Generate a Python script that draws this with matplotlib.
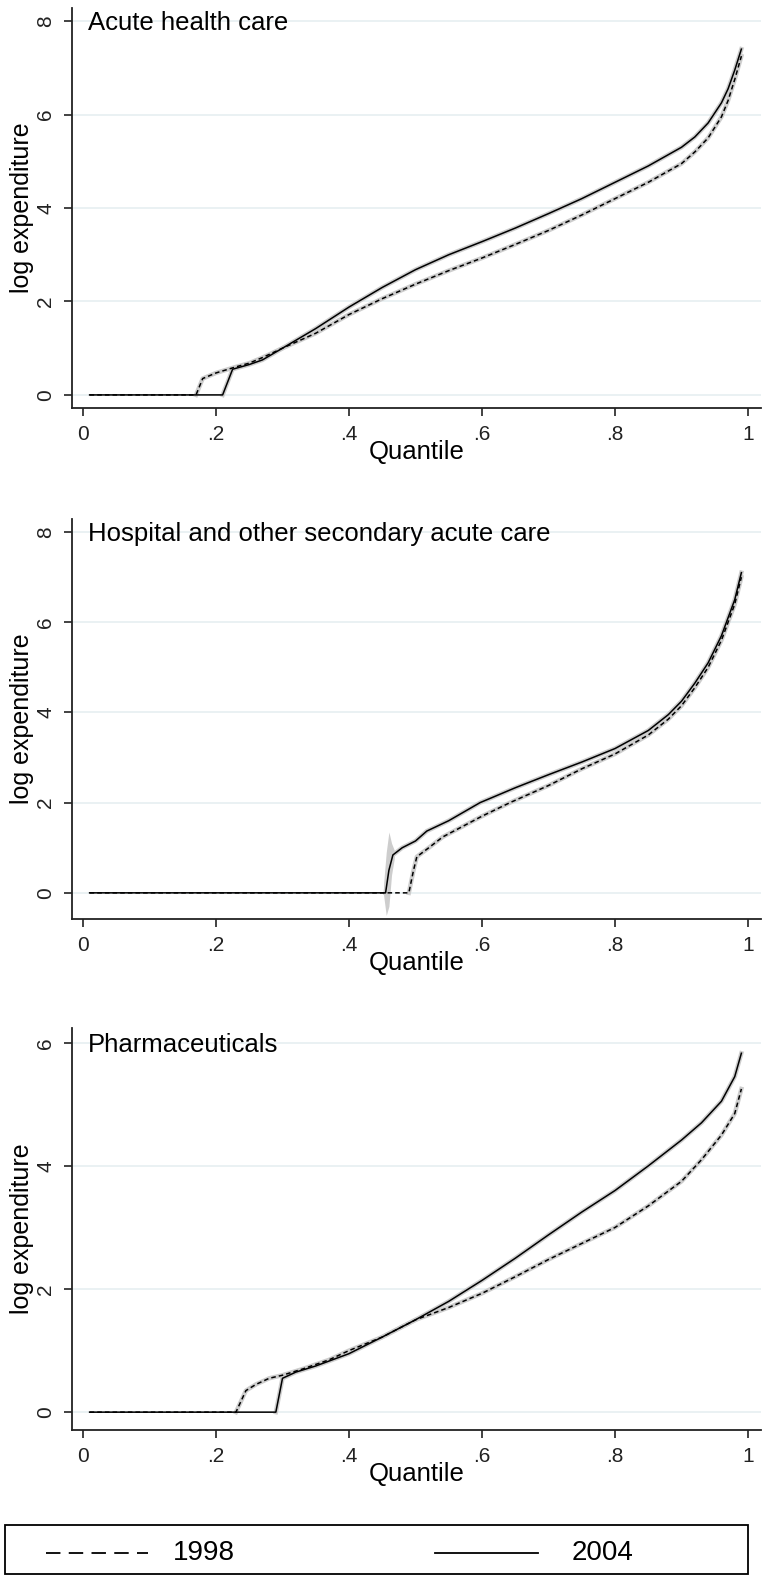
import matplotlib
matplotlib.use("Agg")
import matplotlib.pyplot as plt
from matplotlib.lines import Line2D
from matplotlib.patches import Rectangle

plt.rcParams['font.family'] = ['Liberation Sans', 'DejaVu Sans']

# ---- data (quantile, log expenditure) ----
titles = ["Acute health care", "Hospital and other secondary acute care", "Pharmaceuticals"]
legend_labels = ["1998", "2004"]

acute_q98 = [0.01, 0.17, 0.18, 0.20, 0.23, 0.25, 0.27, 0.30, 0.35, 0.40, 0.45, 0.50, 0.55, 0.60,
             0.65, 0.70, 0.75, 0.80, 0.85, 0.90, 0.92, 0.94, 0.96, 0.97, 0.98, 0.99]
acute_y98 = [0.0, 0.0, 0.35, 0.47, 0.6, 0.68, 0.8, 1.0, 1.32, 1.72, 2.06, 2.37, 2.66, 2.93,
             3.22, 3.52, 3.85, 4.2, 4.55, 4.95, 5.2, 5.5, 5.95, 6.3, 6.75, 7.25]
acute_q04 = [0.01, 0.21, 0.225, 0.25, 0.27, 0.30, 0.35, 0.40, 0.45, 0.50, 0.55, 0.60,
             0.65, 0.70, 0.75, 0.80, 0.85, 0.90, 0.92, 0.94, 0.96, 0.97, 0.98, 0.99]
acute_y04 = [0.0, 0.0, 0.55, 0.65, 0.75, 1.0, 1.42, 1.88, 2.3, 2.68, 3.0, 3.28,
             3.57, 3.88, 4.2, 4.55, 4.9, 5.3, 5.52, 5.82, 6.25, 6.55, 6.95, 7.4]

hosp_q98 = [0.01, 0.49, 0.497, 0.502, 0.52, 0.541, 0.60, 0.642, 0.70, 0.75, 0.80, 0.85,
            0.88, 0.90, 0.92, 0.94, 0.96, 0.98, 0.99]
hosp_y98 = [0.0, 0.0, 0.5, 0.8, 1.0, 1.24, 1.7, 2.0, 2.38, 2.75, 3.08, 3.5,
            3.85, 4.15, 4.55, 5.0, 5.6, 6.4, 7.0]
hosp_q04 = [0.01, 0.455, 0.46, 0.466, 0.48, 0.50, 0.517, 0.55, 0.597, 0.65, 0.70, 0.75,
            0.80, 0.85, 0.88, 0.90, 0.92, 0.94, 0.96, 0.98, 0.99]
hosp_y04 = [0.0, 0.0, 0.5, 0.84, 1.0, 1.15, 1.37, 1.6, 2.0, 2.33, 2.62, 2.9,
            3.2, 3.6, 3.95, 4.25, 4.65, 5.1, 5.7, 6.5, 7.1]
# confidence spike around the 2004 jump
hosp_ci_q = [0.452, 0.456, 0.460, 0.464, 0.468]
hosp_ci_lo = [-0.05, -0.5, -0.3, 0.4, 0.75]
hosp_ci_hi = [0.2, 0.9, 1.35, 1.1, 0.95]

pharm_q98 = [0.01, 0.23, 0.245, 0.26, 0.28, 0.30, 0.33, 0.37, 0.40, 0.45, 0.50, 0.55, 0.60,
             0.65, 0.70, 0.75, 0.80, 0.85, 0.90, 0.93, 0.96, 0.98, 0.99]
pharm_y98 = [0.0, 0.0, 0.35, 0.45, 0.55, 0.6, 0.7, 0.85, 1.0, 1.22, 1.5, 1.7, 1.93,
             2.2, 2.48, 2.74, 3.0, 3.35, 3.75, 4.1, 4.5, 4.85, 5.25]
pharm_q04 = [0.01, 0.29, 0.30, 0.32, 0.35, 0.40, 0.45, 0.50, 0.55, 0.60, 0.65, 0.70,
             0.75, 0.80, 0.85, 0.90, 0.93, 0.96, 0.98, 0.99]
pharm_y04 = [0.0, 0.0, 0.55, 0.65, 0.75, 0.95, 1.22, 1.5, 1.8, 2.14, 2.5, 2.88,
             3.25, 3.6, 4.0, 4.42, 4.7, 5.05, 5.45, 5.83]

panels = [
    (acute_q98, acute_y98, acute_q04, acute_y04, [0, 2, 4, 6, 8], (-0.28, 8.28)),
    (hosp_q98, hosp_y98, hosp_q04, hosp_y04, [0, 2, 4, 6, 8], (-0.58, 8.29)),
    (pharm_q98, pharm_y98, pharm_q04, pharm_y04, [0, 2, 4, 6], (-0.29, 6.24)),
]
xticks = [0, 0.2, 0.4, 0.6, 0.8, 1.0]
xticklabels = ["0", ".2", ".4", ".6", ".8", "1"]

W, H = 763, 1578
fig = plt.figure(figsize=(W / 100, H / 100), dpi=100)

boxes = [(8, 408), (519, 919), (1028, 1430)]  # (top px, bottom px)
left_px, right_px = 72, 761
gray = "#cdcdcd"

for i, ((q98, y98, q04, y04, yt, ylim), (top, bot)) in enumerate(zip(panels, boxes)):
    ax = fig.add_axes([left_px / W, 1 - bot / H, (right_px - left_px) / W, (bot - top) / H])
    for s in ['top', 'right']:
        ax.spines[s].set_visible(False)
    for s in ['left', 'bottom']:
        ax.spines[s].set_linewidth(1.3)
        ax.spines[s].set_color("#222222")
    ax.set_xlim(-0.0165, 1.0195)
    ax.set_ylim(*ylim)
    ax.set_yticks(yt)
    ax.set_yticklabels([str(v) for v in yt], rotation=90, va='center', fontsize=15)
    ax.set_xticks(xticks)
    ax.set_xticklabels(xticklabels, fontsize=15)
    ax.tick_params(direction='out', length=6, width=1.2, pad=6, colors="#222222")
    ax.yaxis.grid(True, color="#e6eff1", linewidth=1.2)
    ax.set_axisbelow(True)

    # light grey confidence bands as a wide underlay (not on the flat zero part)
    ax.plot(q98[1:], y98[1:], color=gray, lw=3.2, zorder=2)
    ax.plot(q04[1:], y04[1:], color=gray, lw=3.2, zorder=2)
    if i == 1:
        ax.fill_between(hosp_ci_q, hosp_ci_lo, hosp_ci_hi, color=gray, lw=0, zorder=2)

    ax.plot(q98, y98, color='black', lw=1.1, linestyle=(0, (3, 2)), zorder=3)
    ax.plot(q04, y04, color='black', lw=1.1, zorder=3)

    ax.annotate(titles[i], xy=(0.0075, yt[-1]), xytext=(0, -6.6), textcoords='offset points',
                fontsize=18.5, va='baseline', ha='left', zorder=4)
    ax.set_ylabel("log expenditure", fontsize=18, labelpad=2)
    ax.set_xlabel("Quantile", fontsize=18.5)
    ax.xaxis.set_label_coords(0.5, -0.08)

# legend across the bottom, drawn by hand to match the Stata layout
lax = fig.add_axes([0, 0, 1, 1], facecolor='none')
lax.set_xlim(0, W)
lax.set_ylim(H, 0)
lax.axis('off')
lax.add_patch(Rectangle((5, 1525), 743, 49, fill=False, edgecolor='black', lw=1.3))
lax.add_line(Line2D([46, 148], [1553, 1553], color='black', lw=1.3, linestyle=(0, (8, 4.6))))
lax.add_line(Line2D([435, 538], [1553, 1553], color='black', lw=1.3))
lax.text(173, 1553, legend_labels[0], fontsize=20, va='center', ha='left')
lax.text(572, 1553, legend_labels[1], fontsize=20, va='center', ha='left')

fig.savefig("out.png", dpi=100)
